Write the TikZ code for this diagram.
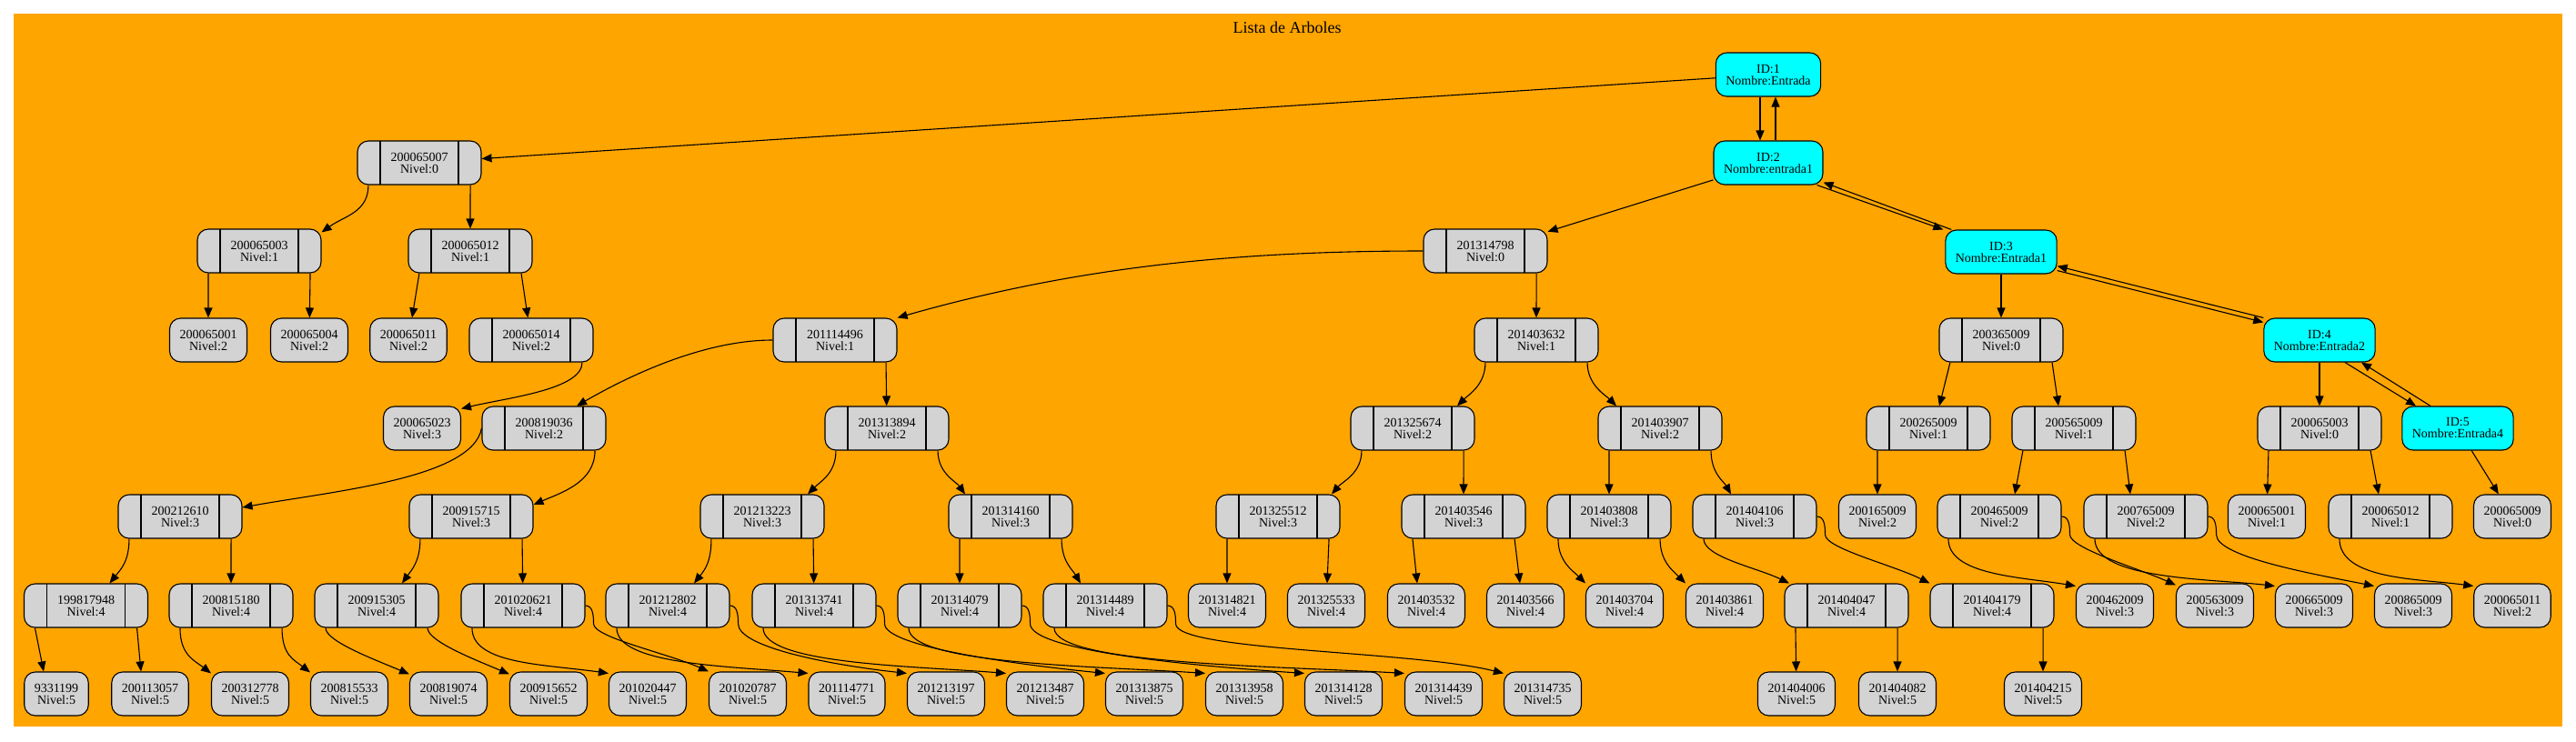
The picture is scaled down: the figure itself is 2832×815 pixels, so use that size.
\documentclass[tikz,border=0pt]{standalone}
\usepackage{fontspec}
\setmainfont{Liberation Serif}
\usetikzlibrary{arrows.meta}
\definecolor{naranja}{HTML}{FFA500}
\definecolor{gris}{HTML}{D3D3D3}
\definecolor{celeste}{HTML}{00FFFF}
\newcommand{\letra}{\fontsize{14}{13}\selectfont}
\newcommand{\izq}[1]{([xshift=12.5pt]#1.south west)}
\newcommand{\der}[1]{([xshift=-12.5pt]#1.south east)}
\newcommand{\gancho}[1]{(#1.east) .. controls +(8,0) and +(0,-10) .. +(9,20)}
\tikzset{
hoja/.style={draw,fill=gris,rounded corners=12pt,minimum height=48pt,inner xsep=11pt,inner ysep=0pt,align=center},
registro/.style={hoja,minimum width=136pt,path picture={
\draw ([xshift=25pt]path picture bounding box.south west)--([xshift=25pt]path picture bounding box.north west);
\draw ([xshift=-25pt]path picture bounding box.south east)--([xshift=-25pt]path picture bounding box.north east);}},
lista/.style={hoja,fill=celeste},
arista/.style={->}
}
\begin{document}
\begin{tikzpicture}[x=1pt,y=-1pt,>={Triangle[length=11pt,width=9pt]},line width=1.1pt,line join=round,font=\letra]
\useasboundingbox (0,0) rectangle (2832,815);
\fill[naranja] (15,15) rectangle (2817,799);
\node[font=\fontsize{18}{18}\selectfont,anchor=base] (titulo) at (1415,36) {Lista de Arboles};
% listas
\node[lista] (id1) at (1944,82) {ID:1\\Nombre:Entrada};
\node[lista] (id2) at (1944,179) {ID:2\\Nombre:entrada1};
\node[lista] (id3) at (2200,277) {ID:3\\Nombre:Entrada1};
\node[lista] (id4) at (2550,374) {ID:4\\Nombre:Entrada2};
\node[lista] (id5) at (2702,471) {ID:5\\Nombre:Entrada4};
% arbol 1
\node[registro] (a200065007) at (461,179) {200065007\\Nivel:0};
\foreach \n/\x in {200065003/285,200065012/517}
\node[registro] (a\n) at (\x,276) {\n\\Nivel:1};
\foreach \n/\x in {200065001/229,200065004/340,200065011/449}
\node[hoja] (a\n) at (\x,374) {\n\\Nivel:2};
\node[registro] (a200065014) at (584,374) {200065014\\Nivel:2};
\node[hoja] (a200065023) at (464,471) {200065023\\Nivel:3};
% arbol 2
\node[registro] (b201314798) at (1633,276) {201314798\\Nivel:0};
\foreach \n/\x in {201114496/918,201403632/1689}
\node[registro] (b\n) at (\x,374) {\n\\Nivel:1};
\foreach \n/\x in {200819036/598,201313894/975,201325674/1553,201403907/1825}
\node[registro] (b\n) at (\x,471) {\n\\Nivel:2};
\foreach \n/\x in {200212610/198,200915715/518,201213223/838,201314160/1111,201325512/1405,201403546/1609,201403808/1769,201404106/1929}
\node[registro] (b\n) at (\x,568) {\n\\Nivel:3};
\foreach \n/\x in {199817948/94.5,200815180/254,200915305/414,201020621/575,201212802/734,201313741/895,201314079/1055,201314489/1215,201404047/2030,201404179/2190}
\node[registro] (b\n) at (\x,666) {\n\\Nivel:4};
\foreach \n/\x in {201314821/1349,201325533/1458,201403532/1568,201403566/1677,201403704/1786,201403861/1896}
\node[hoja] (b\n) at (\x,666) {\n\\Nivel:4};
\foreach \n/\x in {9331199/62,200113057/165,200312778/275,200815533/384,200819074/493,200915652/603,201020447/712,201020787/822,201114771/931,201213197/1040,201213487/1149,201313875/1258,201313958/1368,201314128/1477,201314439/1587,201314735/1696,201404006/1975,201404082/2086,201404215/2246}
\node[hoja] (b\n) at (\x,763) {\n\\Nivel:5};
% arbol 3
\node[registro] (c200365009) at (2200,374) {200365009\\Nivel:0};
\foreach \n/\x in {200265009/2120,200565009/2280}
\node[registro] (c\n) at (\x,471) {\n\\Nivel:1};
\node[hoja] (c200165009) at (2064,568) {200165009\\Nivel:2};
\foreach \n/\x in {200465009/2198,200765009/2359}
\node[registro] (c\n) at (\x,568) {\n\\Nivel:2};
\foreach \n/\x in {200462009/2325,200563009/2435,200665009/2544,200865009/2653}
\node[hoja] (c\n) at (\x,666) {\n\\Nivel:3};
% arbol 4 y 5
\node[registro] (d200065003) at (2550,471) {200065003\\Nivel:0};
\node[hoja] (d200065001) at (2492,568) {200065001\\Nivel:1};
\node[registro] (d200065012) at (2628,568) {200065012\\Nivel:1};
\node[hoja] (d200065011) at (2762,666) {200065011\\Nivel:2};
\node[hoja] (e200065009) at (2762,568) {200065009\\Nivel:0};
% enlaces de la lista
\draw[arista] (id1)--(a200065007);
\draw[arista] ([xshift=-9pt]id1.south)--([xshift=-9pt]id2.north);
\draw[arista] ([xshift=8pt]id2.north)--([xshift=8pt]id1.south);
\draw[arista] (id2)--(b201314798);
\draw[arista] ([xshift=-7pt]id2.south east)--([xshift=-2pt]id3.north west);
\draw[arista] ([xshift=7pt]id3.north west)--([yshift=3pt]id2.south east);
\draw[arista] ([yshift=4pt]id3.south east)--([yshift=-5pt]id4.north west);
\draw[arista] (id4.north west)--([yshift=9pt]id3.south east);
\draw[arista] ([xshift=28pt]id4.south)--([xshift=-46pt]id5.north);
\draw[arista] ([xshift=-30pt]id5.north)--([xshift=46pt]id4.south);
\draw[arista] (id3)--(c200365009);
\draw[arista] (id4)--(d200065003);
\draw[arista] (id5)--(e200065009);
% arbol 1
\draw[arista] \izq{a200065007} .. controls +(0,30) and +(25,-18) .. ([yshift=-4pt]a200065003.north east);
\draw[arista] \der{a200065007}--(a200065012);
\draw[arista] \izq{a200065003}--(a200065001);
\draw[arista] \der{a200065003}--(a200065004);
\draw[arista] \izq{a200065012}--(a200065011);
\draw[arista] \der{a200065012}--(a200065014);
\draw[arista] \der{a200065014} .. controls +(0,30) and +(50,-12) .. ([yshift=-3pt]a200065023.north east);
% arbol 2
\draw[arista] (b201314798.west) .. controls +(-200,0) and +(200,-57) .. (b201114496.north east);
\draw[arista] \der{b201314798}--(b201403632);
\draw[arista] (b201114496.west) .. controls +(-80,0) and +(50,-29) .. ([xshift=36pt]b200819036.north);
\draw[arista] \der{b201114496}--(b201313894);
\draw[arista] (b200819036.west) .. controls +(-10,55) and +(100,-18) .. ([yshift=10pt]b200212610.east);
\draw[arista] \der{b200819036} .. controls +(0,35) and +(30,-13) .. ([yshift=13pt]b200915715.east);
\draw[arista] \izq{b200212610} .. controls +(0,25) and +(12,-15) .. ([xshift=26pt]b199817948.north);
\draw[arista] \der{b200212610}--(b200815180);
\draw[arista] \izq{b199817948}--([xshift=-14pt]b9331199.north);
\draw[arista] \der{b199817948}--([xshift=-10pt]b200113057.north);
\draw[arista] \izq{b200815180} .. controls +(0,30) and +(-18,-14) .. ([yshift=-2pt]b200312778.north west);
\draw[arista] \der{b200815180} .. controls +(0,30) and +(-18,-14) .. ([yshift=-1pt]b200815533.north west);
\draw[arista] \izq{b200915715} .. controls +(0,25) and +(10,-14) .. ([xshift=28pt]b200915305.north);
\draw[arista] \der{b200915715}--(b201020621);
\draw[arista] \izq{b200915305} .. controls +(0,15) and +(-35,-15) .. ([yshift=-3pt]b200819074.north west);
\draw[arista] \der{b200915305} .. controls +(0,15) and +(-35,-15) .. ([yshift=-3pt]b200915652.north west);
\draw[arista] \izq{b201020621} .. controls +(0,40) and +(-70,-10) .. ([yshift=-2pt]b201020447.north west);
\draw[arista] \gancho{b201020621} .. controls +(0,15) and +(-45,-20) .. (b201020787.north west);
\draw[arista] \izq{b201313894} .. controls +(0,25) and +(14,-14) .. ([xshift=50pt]b201213223.north);
\draw[arista] \der{b201313894} .. controls +(0,25) and +(-10,-14) .. ([xshift=-50pt]b201314160.north);
\draw[arista] \izq{b201213223} .. controls +(0,25) and +(12,-15) .. ([xshift=29pt]b201212802.north);
\draw[arista] \der{b201213223}--(b201313741);
\draw[arista] \izq{b201212802} .. controls +(0,40) and +(-90,-8) .. ([yshift=-2pt]b201114771.north west);
\draw[arista] \gancho{b201212802} .. controls +(0,25) and +(-90,-10) .. ([yshift=-2pt]b201213197.north west);
\draw[arista] \izq{b201313741} .. controls +(0,40) and +(-100,-8) .. ([yshift=-2pt]b201213487.north west);
\draw[arista] \gancho{b201313741} .. controls +(0,25) and +(-100,-10) .. ([yshift=-2pt]b201313875.north west);
\draw[arista] \izq{b201314160}--(b201314079);
\draw[arista] \der{b201314160} .. controls +(0,25) and +(-9,-15) .. ([xshift=-27pt]b201314489.north);
\draw[arista] \izq{b201314079} .. controls +(0,40) and +(-120,-8) .. ([yshift=-2pt]b201313958.north west);
\draw[arista] \gancho{b201314079} .. controls +(0,30) and +(-120,-8) .. ([yshift=-2pt]b201314128.north west);
\draw[arista] \izq{b201314489} .. controls +(0,40) and +(-140,-8) .. ([yshift=-2pt]b201314439.north west);
\draw[arista] \gancho{b201314489} .. controls +(0,30) and +(-100,-25) .. ([yshift=-2pt]b201314735.north west);
\draw[arista] \izq{b201403632} .. controls +(0,25) and +(12,-12) .. ([xshift=49pt]b201325674.north);
\draw[arista] \der{b201403632} .. controls +(0,25) and +(-12,-12) .. ([xshift=-48pt]b201403907.north);
\draw[arista] \izq{b201325674} .. controls +(0,25) and +(12,-14) .. ([xshift=59pt]b201325512.north);
\draw[arista] \der{b201325674}--(b201403546);
\draw[arista] \izq{b201325512}--(b201314821);
\draw[arista] \der{b201325512}--(b201325533);
\draw[arista] \izq{b201403546}--([xshift=-10pt]b201403532.north);
\draw[arista] \der{b201403546}--([xshift=-6pt]b201403566.north);
\draw[arista] \izq{b201403907}--(b201403808);
\draw[arista] \der{b201403907} .. controls +(0,25) and +(-8,-14) .. ([xshift=-26pt]b201404106.north);
\draw[arista] \izq{b201403808} .. controls +(0,25) and +(-14,-14) .. (b201403704.north west);
\draw[arista] \der{b201403808} .. controls +(0,25) and +(-14,-14) .. (b201403861.north west);
\draw[arista] \izq{b201404106} .. controls +(0,20) and +(-35,-17) .. ([xshift=-63pt]b201404047.north);
\draw[arista] \gancho{b201404106} .. controls +(0,15) and +(-40,-20) .. (b201404179.north west);
\draw[arista] \izq{b201404047}--(b201404006);
\draw[arista] \der{b201404047}--(b201404082);
\draw[arista] \der{b201404179}--(b201404215);
% arbol 3
\draw[arista] \izq{c200365009}--([xshift=12pt]c200265009.north);
\draw[arista] \der{c200365009}--([xshift=-17pt]c200565009.north);
\draw[arista] \izq{c200265009}--(c200165009);
\draw[arista] \izq{c200565009}--([xshift=17pt]c200465009.north);
\draw[arista] \der{c200565009}--([xshift=-17pt]c200765009.north);
\draw[arista] \izq{c200465009} .. controls +(0,40) and +(-60,-10) .. ([yshift=-3pt]c200462009.north west);
\draw[arista] \gancho{c200465009} .. controls +(0,15) and +(-40,-18) .. ([yshift=-2pt]c200563009.north west);
\draw[arista] \izq{c200765009} .. controls +(0,45) and +(-70,-8) .. ([yshift=-3pt]c200665009.north west);
\draw[arista] \gancho{c200765009} .. controls +(0,25) and +(-60,-12) .. ([yshift=-3pt]c200865009.north west);
% arbol 4
\draw[arista] \izq{d200065003}--(d200065001);
\draw[arista] \der{d200065003}--([xshift=-13pt]d200065012.north);
\draw[arista] \izq{d200065012} .. controls +(0,45) and +(-60,-8) .. ([yshift=-3pt]d200065011.north west);
\end{tikzpicture}
\end{document}
